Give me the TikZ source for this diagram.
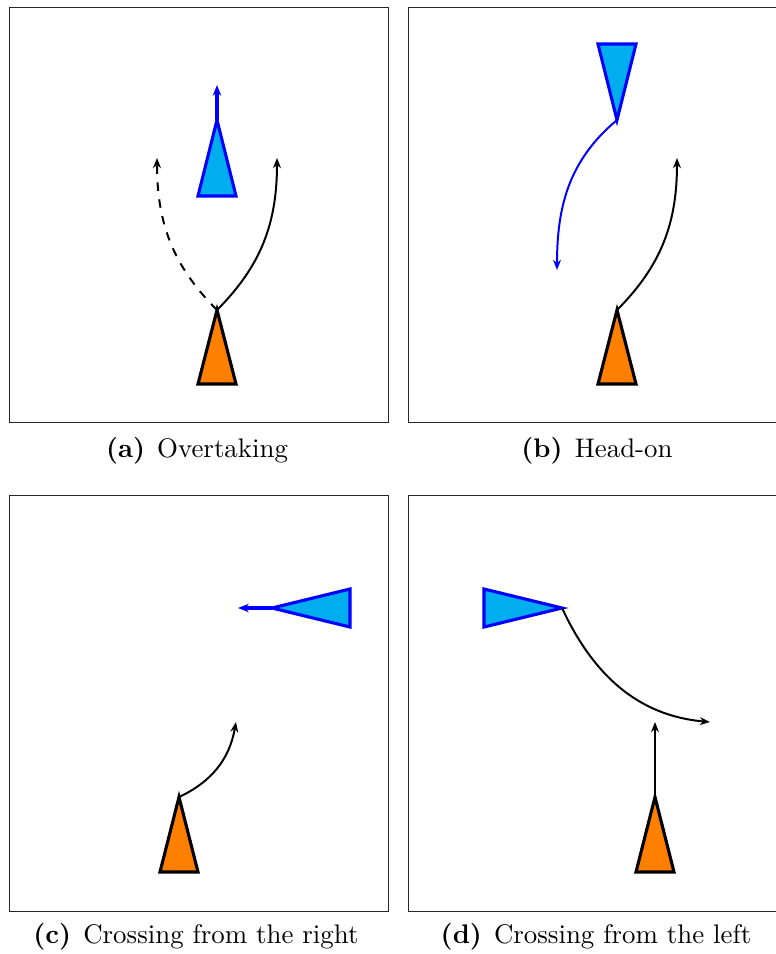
\documentclass[tikz,border=0pt]{standalone}
\usetikzlibrary{arrows.meta}
\definecolor{vesselblue}{RGB}{0,174,239}
\definecolor{ownorange}{RGB}{255,128,0}
\tikzset{
  px/.style={x=0.3535pt,y=-0.3535pt},
  panel/.style={draw=black!85,line width=0.3pt},
  ownship/.style={draw=black,fill=ownorange,line width=1.1pt,line join=miter},
  target/.style={draw=blue,fill=vesselblue,line width=1.1pt,line join=miter},
  ownpath/.style={draw=black,line width=0.7pt,-{Stealth[length=3.6pt,width=2.8pt]}},
  tgtpath/.style={draw=blue,line width=0.7pt,-{Stealth[length=3.6pt,width=2.8pt]}},
  tgtvec/.style={draw=blue,line width=1.1pt,-{Stealth[length=3.8pt,width=3pt]}},
  captext/.style={anchor=base,font=\fontsize{9.5}{11}\selectfont,inner sep=0pt},
}
\begin{document}
\begin{tikzpicture}[px]
\useasboundingbox (0,0) rectangle (776,954);
\fill[white] (0,0) rectangle (776,954);
% panel frames
\draw[panel] (9,7) rectangle (388,422);
\draw[panel] (408,7) rectangle (787,422);
\draw[panel] (9,495) rectangle (388,911);
\draw[panel] (408,495) rectangle (787,911);
% captions
\node[captext] (capa) at (197,457) {\textbf{(a)}\hspace{0.45em}Overtaking};
\node[captext] (capb) at (597,457) {\textbf{(b)}\hspace{0.45em}Head-on};
\node[captext] (capc) at (196,943) {\textbf{(c)}\hspace{0.45em}Crossing from the right};
\node[captext] (capd) at (596,943) {\textbf{(d)}\hspace{0.45em}Crossing from the left};

% ---------- (a) Overtaking ----------
\coordinate (a-own) at (217,310);
\coordinate (a-tgt) at (217,120);
\coordinate (a-tgtend) at (217,85);
\coordinate (a-r) at (277,158);
\coordinate (a-l) at (157,158);
\draw[target] (198,196) -- (a-tgt) -- (236,196) -- cycle;
\draw[tgtvec] (a-tgt) -- (a-tgtend);
\draw[ownpath] (a-own) to[out=45,in=-90] (a-r);
\draw[ownpath,dashed] (a-own) to[out=135,in=-90] (a-l);
\draw[ownship] (198,384) -- (a-own) -- (236,384) -- cycle;

% ---------- (b) Head-on ----------
\coordinate (b-own) at (617,310);
\coordinate (b-tgt) at (617,120);
\coordinate (b-tgtend) at (557,270);
\coordinate (b-r) at (677,158);
\draw[target] (598,44) -- (b-tgt) -- (636,44) -- cycle;
\draw[tgtpath] (b-tgt) to[out=-140,in=90] (b-tgtend);
\draw[ownpath] (b-own) to[out=45,in=-90] (b-r);
\draw[ownship] (598,384) -- (b-own) -- (636,384) -- cycle;

% ---------- (c) Crossing from the right ----------
\coordinate (c-own) at (179,797);
\coordinate (c-tgt) at (272,608);
\coordinate (c-tgtend) at (238,608);
\coordinate (c-r) at (236,722);
\draw[target] (350,589) -- (c-tgt) -- (350,627) -- cycle;
\draw[tgtvec] (c-tgt) -- (c-tgtend);
\draw[ownpath] (c-own) to[out=25,in=-100] (c-r);
\draw[ownship] (160,872) -- (c-own) -- (198,872) -- cycle;

% ---------- (d) Crossing from the left ----------
\coordinate (d-own) at (655,797);
\coordinate (d-ownend) at (655,722);
\coordinate (d-tgt) at (562,608);
\coordinate (d-tgtend) at (710,722);
\draw[target] (484,589) -- (d-tgt) -- (484,627) -- cycle;
\draw[ownpath] (d-tgt) to[out=-65,in=175] (d-tgtend);
\draw[ownpath] (d-own) -- (d-ownend);
\draw[ownship] (636,872) -- (d-own) -- (674,872) -- cycle;
\end{tikzpicture}
\end{document}
